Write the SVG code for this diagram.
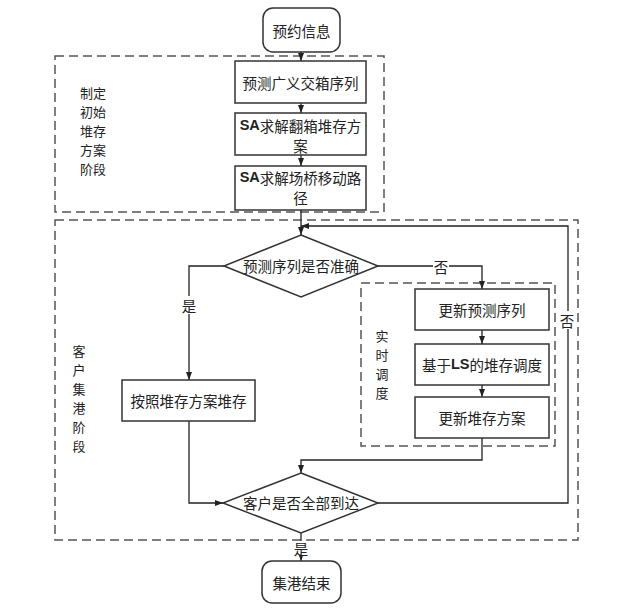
<svg xmlns="http://www.w3.org/2000/svg" width="619" height="608" viewBox="0 0 619 608">
<defs>
<marker id="arr" markerWidth="8" markerHeight="6" refX="8" refY="3" orient="auto" markerUnits="userSpaceOnUse">
<path d="M0,0 L8,3 L0,6 z" fill="#222"/>
</marker>
<style>
.t{font-family:"Noto Sans CJK SC","Liberation Sans",sans-serif;font-size:14.5px;fill:#222;text-anchor:middle;dominant-baseline:central}
.v{font-size:13px}
.b{font-family:"Liberation Sans",sans-serif;font-weight:bold}
.box{fill:#fff;stroke:#333;stroke-width:1.5}
.dash{fill:none;stroke:#555;stroke-width:1.5;stroke-dasharray:9,5}
.ln{fill:none;stroke:#222;stroke-width:1.3}
.lbg{fill:#fff}
</style>
</defs>
<rect width="619" height="608" fill="#fff"/>

<g id="stage1">
<rect class="dash" x="55" y="56" width="329" height="156"/>
<text class="t v"><tspan x="93" y="92">制定</tspan><tspan x="93" y="111">初始</tspan><tspan x="93" y="130">堆存</tspan><tspan x="93" y="149">方案</tspan><tspan x="93" y="168">阶段</tspan></text>
</g>
<g id="stage2">
<rect class="dash" x="55" y="220" width="523" height="320"/>
<text class="t v"><tspan x="79" y="350">客</tspan><tspan x="79" y="369">户</tspan><tspan x="79" y="388">集</tspan><tspan x="79" y="407">港</tspan><tspan x="79" y="426">阶</tspan><tspan x="79" y="445">段</tspan></text>
</g>
<g id="realtime">
<rect class="dash" x="361" y="283" width="194" height="163"/>
<text class="t v"><tspan x="382" y="335">实</tspan><tspan x="382" y="354">时</tspan><tspan x="382" y="373">调</tspan><tspan x="382" y="392">度</tspan></text>
</g>

<g id="connectors">
<path class="ln" d="M301,52 V61" marker-end="url(#arr)"/>
<path class="ln" d="M301,103 V113" marker-end="url(#arr)"/>
<path class="ln" d="M301,155 V166" marker-end="url(#arr)"/>
<path class="ln" d="M301,210 V235" marker-end="url(#arr)"/>
<path class="ln" d="M224,266 H189 V380" marker-end="url(#arr)"/>
<path class="ln" d="M378,266 H482 V289" marker-end="url(#arr)"/>
<path class="ln" d="M482,330 V344" marker-end="url(#arr)"/>
<path class="ln" d="M482,385 V397" marker-end="url(#arr)"/>
<path class="ln" d="M482,438 V460 H301 V473" marker-end="url(#arr)"/>
<path class="ln" d="M189,421 V503 H223" marker-end="url(#arr)"/>
<path class="ln" d="M378,503 H568 V226 H301" marker-end="url(#arr)"/>
<path class="ln" d="M301,533 V561" marker-end="url(#arr)"/>
<rect class="lbg" x="181" y="296" width="16" height="18"/>
<text class="t" x="189" y="305">是</text>
<rect class="lbg" x="433" y="258" width="16" height="17"/>
<text class="t" x="441" y="266">否</text>
<rect class="lbg" x="560" y="311" width="16" height="18"/>
<text class="t" x="567" y="320">否</text>
<rect class="lbg" x="294" y="541" width="15" height="14"/>
<text class="t" x="301" y="548">是</text>
</g>

<g id="start">
<rect class="box" x="263" y="8" width="77" height="44" rx="10"/>
<text class="t" x="301.5" y="30">预约信息</text>
</g>
<g id="predict">
<rect class="box" x="235" y="61" width="131" height="42"/>
<text class="t" x="300.5" y="82">预测广义交箱序列</text>
</g>
<g id="sa1">
<rect class="box" x="235" y="113" width="131" height="42"/>
<text class="t" x="300.5" y="125"><tspan class="b">SA</tspan>求解翻箱堆存方</text>
<text class="t" x="300.5" y="145">案</text>
</g>
<g id="sa2">
<rect class="box" x="235" y="166" width="131" height="44"/>
<text class="t" x="300.5" y="177"><tspan class="b">SA</tspan>求解场桥移动路</text>
<text class="t" x="300.5" y="197">径</text>
</g>
<g id="dec1">
<polygon class="box" points="301,235 378,266 301,297 224,266"/>
<text class="t" x="301" y="265">预测序列是否准确</text>
</g>
<g id="store">
<rect class="box" x="122" y="380" width="133" height="41"/>
<text class="t" x="188.5" y="400">按照堆存方案堆存</text>
</g>
<g id="upd1">
<rect class="box" x="415" y="289" width="134" height="41"/>
<text class="t" x="482" y="309">更新预测序列</text>
</g>
<g id="ls">
<rect class="box" x="415" y="344" width="134" height="41"/>
<text class="t" x="482" y="364">基于<tspan class="b">LS</tspan>的堆存调度</text>
</g>
<g id="upd2">
<rect class="box" x="415" y="397" width="134" height="41"/>
<text class="t" x="482" y="417">更新堆存方案</text>
</g>
<g id="dec2">
<polygon class="box" points="301,473 378,503 301,533 223,503"/>
<text class="t" x="301" y="502">客户是否全部到达</text>
</g>
<g id="end">
<rect class="box" x="262" y="561" width="79" height="42" rx="10"/>
<text class="t" x="301.5" y="582">集港结束</text>
</g>
</svg>
